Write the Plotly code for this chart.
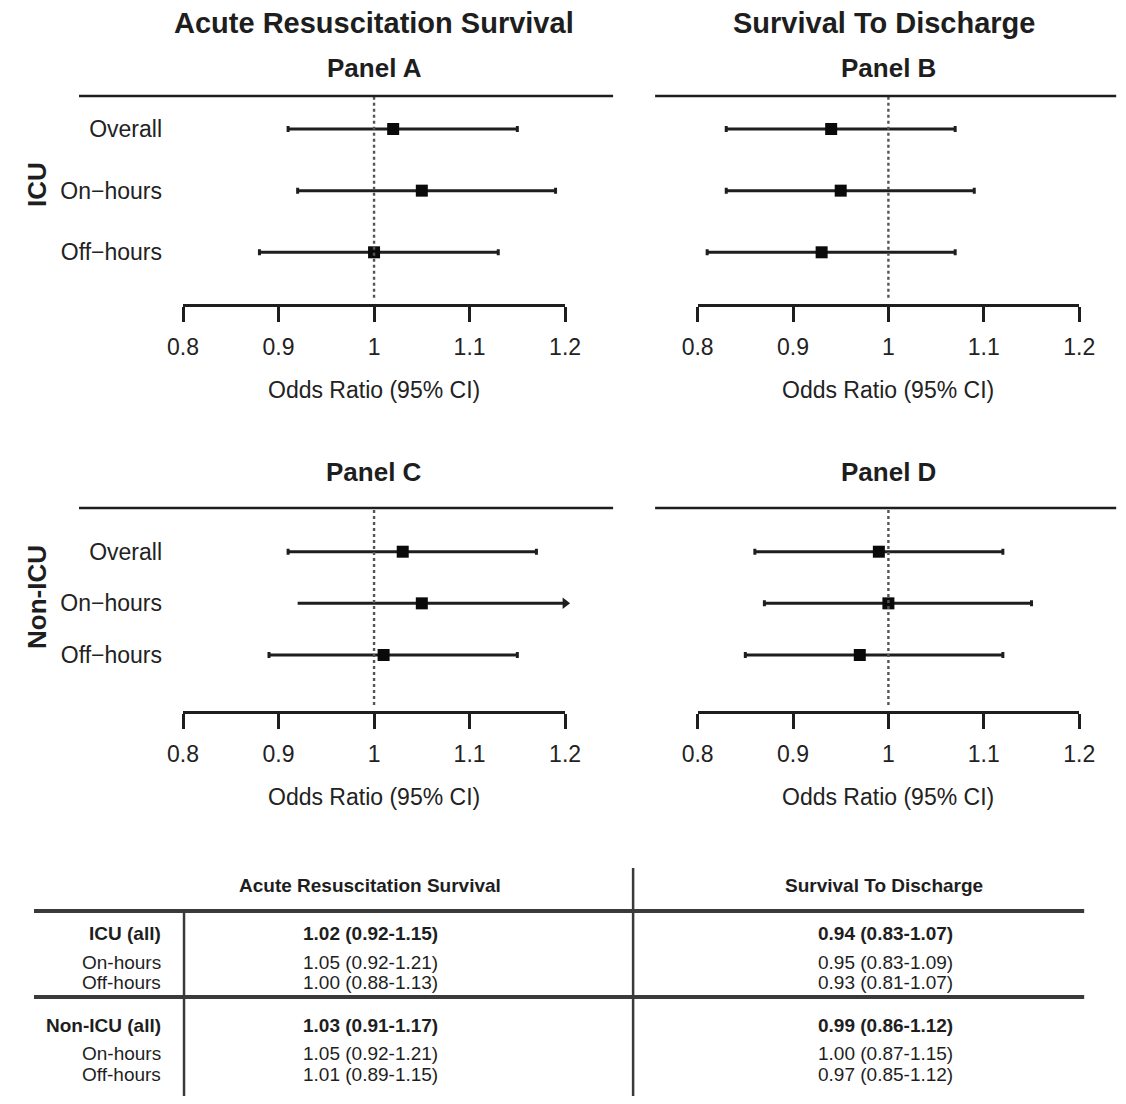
import plotly.graph_objects as go

# ---------------- data ----------------
row_labels = ["Overall", "On\u2212hours", "Off\u2212hours"]

# Panel A: ICU, acute resuscitation survival
a_or = [1.02, 1.05, 1.00]
a_lo = [0.91, 0.92, 0.88]
a_hi = [1.15, 1.19, 1.13]
# Panel B: ICU, survival to discharge
b_or = [0.94, 0.95, 0.93]
b_lo = [0.83, 0.83, 0.81]
b_hi = [1.07, 1.09, 1.07]
# Panel C: non-ICU, acute resuscitation survival
c_or = [1.03, 1.05, 1.01]
c_lo = [0.91, 0.92, 0.89]
c_hi = [1.17, 1.21, 1.15]
# Panel D: non-ICU, survival to discharge
d_or = [0.99, 1.00, 0.97]
d_lo = [0.86, 0.87, 0.85]
d_hi = [1.12, 1.15, 1.12]

x_ticks = [0.8, 0.9, 1.0, 1.1, 1.2]
x_ticktext = ["0.8", "0.9", "1", "1.1", "1.2"]

col_titles = ["Acute Resuscitation Survival", "Survival To Discharge"]
panel_titles = ["Panel A", "Panel B", "Panel C", "Panel D"]
row_group_titles = ["ICU", "Non-ICU"]

# Table text
table_header = ["Acute Resuscitation Survival", "Survival To Discharge"]
table_icu_labels = ["ICU (all)", "On-hours", "Off-hours"]
table_icu_ars = ["1.02 (0.92-1.15)", "1.05 (0.92-1.21)", "1.00 (0.88-1.13)"]
table_icu_std = ["0.94 (0.83-1.07)", "0.95 (0.83-1.09)", "0.93 (0.81-1.07)"]
table_non_labels = ["Non-ICU (all)", "On-hours", "Off-hours"]
table_non_ars = ["1.03 (0.91-1.17)", "1.05 (0.92-1.21)", "1.01 (0.89-1.15)"]
table_non_std = ["0.99 (0.86-1.12)", "1.00 (0.87-1.15)", "0.97 (0.85-1.12)"]

# ---------------- layout helpers ----------------
PAGE_MARGIN = 8                     # default body margin of the html page
W, H = 1126 - 2 * PAGE_MARGIN, 1104 - 2 * PAGE_MARGIN
FONT = "Liberation Sans, Arial, Helvetica, sans-serif"
INK = "#1e1e1e"
XMIN, XMAX = 0.8, 1.2
X_ORIGIN, X_SCALE = 23.0, 0.971     # calibration of the photographed page


def fx(px):
    return (px - X_ORIGIN) / (X_SCALE * W)


def fy(py):
    return 1 - (py - PAGE_MARGIN) / H


fig = go.Figure()

# panel geometry (target pixels)
panels = [
    dict(data=(a_or, a_lo, a_hi), x0=182, x1=564, top=96, bot=304, r3=129, r1=252.3,
         title_y=68, labels=True, line=(78, 612)),
    dict(data=(b_or, b_lo, b_hi), x0=696.5, x1=1078, top=96, bot=304, r3=129, r1=252.3,
         title_y=68, labels=False, line=(654, 1115)),
    dict(data=(c_or, c_lo, c_hi), x0=182, x1=564, top=508, bot=711, r3=551.7, r1=655,
         title_y=472, labels=True, line=(78, 612)),
    dict(data=(d_or, d_lo, d_hi), x0=696.5, x1=1078, top=508, bot=711, r3=551.7, r1=655,
         title_y=472, labels=False, line=(654, 1115)),
]

row_pos = [3, 2, 1]
shapes = []
annotations = []

for i, p in enumerate(panels):
    n = i + 1
    xa = "x" if n == 1 else f"x{n}"
    ya = "y" if n == 1 else f"y{n}"
    unit = (p["r1"] - p["r3"]) / 2.0
    y_top = 3 + (p["r3"] - p["top"]) / unit
    y_bot = 1 - (p["bot"] - p["r1"]) / unit

    ors, los, his = p["data"]
    for k in range(3):
        clipped = his[k] > XMAX
        upper = min(his[k], XMAX)
        fig.add_trace(go.Scatter(
            x=[ors[k]], y=[row_pos[k]], xaxis=xa, yaxis=ya, mode="markers",
            marker=dict(symbol="square", size=12, color="#0a0a0a"),
            error_x=dict(type="data", symmetric=False,
                         array=[upper - ors[k]], arrayminus=[ors[k] - los[k]],
                         color=INK, thickness=3, width=0 if clipped else 3),
            showlegend=False, hoverinfo="skip", cliponaxis=False,
        ))
        if clipped:
            fig.add_trace(go.Scatter(
                x=[XMAX], y=[row_pos[k]], xaxis=xa, yaxis=ya, mode="markers",
                marker=dict(symbol="triangle-right", size=10, color=INK),
                showlegend=False, hoverinfo="skip", cliponaxis=False,
            ))

    fig.update_layout(**{
        ("xaxis" if n == 1 else f"xaxis{n}"): dict(
            domain=[fx(p["x0"]), fx(p["x1"])], range=[XMIN, XMAX],
            anchor=ya, showgrid=False, zeroline=False,
            showline=True, linewidth=2.5, linecolor=INK,
            ticks="outside", ticklen=15, tickwidth=2.5, tickcolor=INK,
            tickvals=x_ticks, ticktext=x_ticktext,
            tickfont=dict(family=FONT, size=23, color="#222"),
            ticklabelstandoff=6, fixedrange=True,
        ),
        ("yaxis" if n == 1 else f"yaxis{n}"): dict(
            domain=[fy(p["bot"]), fy(p["top"])], range=[y_bot, y_top],
            anchor=xa, showgrid=False, zeroline=False, showline=False,
            tickvals=row_pos, ticktext=row_labels if p["labels"] else [""] * 3,
            showticklabels=p["labels"], ticks="",
            tickfont=dict(family=FONT, size=23, color="#222"),
            ticklabelstandoff=20, fixedrange=True,
        ),
    })

    # dotted reference line at OR = 1
    shapes.append(dict(type="line", xref=xa, yref=f"{ya} domain", x0=1, x1=1,
                       y0=0.03, y1=1, line=dict(color="#555", width=2.4, dash="dot")))
    # heavy line under panel title
    shapes.append(dict(type="line", xref="paper", yref="paper",
                       x0=fx(p["line"][0]), x1=fx(p["line"][1]),
                       y0=fy(p["top"]), y1=fy(p["top"]),
                       line=dict(color=INK, width=2.5)))
    # panel title
    annotations.append(dict(text=f"<b>{panel_titles[i]}</b>", x=fx((p["x0"] + p["x1"]) / 2),
                            y=fy(p["title_y"]), xref="paper", yref="paper",
                            showarrow=False, xanchor="center", yanchor="middle",
                            font=dict(family=FONT, size=26, color=INK)))
    # axis title
    annotations.append(dict(text="Odds Ratio (95% CI)", x=fx((p["x0"] + p["x1"]) / 2),
                            y=fy(p["bot"] + 86), xref="paper", yref="paper",
                            showarrow=False, xanchor="center", yanchor="middle",
                            font=dict(family=FONT, size=23, color="#222")))

# column titles
for j, cx in enumerate([373, 883]):
    annotations.append(dict(text=f"<b>{col_titles[j]}</b>", x=fx(cx), y=fy(23),
                            xref="paper", yref="paper", showarrow=False,
                            xanchor="center", yanchor="middle",
                            font=dict(family=FONT, size=29, color=INK)))

# row group titles (rotated)
for j, cy in enumerate([185, 597]):
    annotations.append(dict(text=f"<b>{row_group_titles[j]}</b>", x=fx(36), y=fy(cy),
                            xref="paper", yref="paper", showarrow=False, textangle=-90,
                            xanchor="center", yanchor="middle",
                            font=dict(family=FONT, size=26, color=INK)))

# ---------------- table ----------------
TLINE = "#3a3a3a"
for yy in [911, 997, 1101]:
    shapes.append(dict(type="line", xref="paper", yref="paper",
                       x0=fx(33), x1=fx(1083), y0=fy(yy), y1=fy(yy),
                       line=dict(color=TLINE, width=4)))
shapes.append(dict(type="line", xref="paper", yref="paper",
                   x0=fx(632), x1=fx(632), y0=fy(868), y1=fy(1104),
                   line=dict(color=TLINE, width=2.5)))
shapes.append(dict(type="line", xref="paper", yref="paper",
                   x0=fx(183), x1=fx(183), y0=fy(911), y1=fy(1104),
                   line=dict(color=TLINE, width=2.5)))

for j, cx in enumerate([369, 883]):
    annotations.append(dict(text=f"<b>{table_header[j]}</b>", x=fx(cx), y=fy(885),
                            xref="paper", yref="paper", showarrow=False,
                            xanchor="center", yanchor="middle",
                            font=dict(family=FONT, size=19, color=INK)))

blocks = [
    (table_icu_labels, table_icu_ars, table_icu_std, [933, 962, 982]),
    (table_non_labels, table_non_ars, table_non_std, [1025, 1053, 1074]),
]
for labels, ars, std, ys in blocks:
    for k in range(3):
        bold = k == 0

        def fmt(t):
            return f"<b>{t}</b>" if bold else t
        annotations.append(dict(text=fmt(labels[k]), x=fx(162), y=fy(ys[k]),
                                xref="paper", yref="paper", showarrow=False,
                                xanchor="right", yanchor="middle",
                                font=dict(family=FONT, size=19, color=INK)))
        annotations.append(dict(text=fmt(ars[k]), x=fx(369), y=fy(ys[k]),
                                xref="paper", yref="paper", showarrow=False,
                                xanchor="center", yanchor="middle",
                                font=dict(family=FONT, size=19, color=INK)))
        annotations.append(dict(text=fmt(std[k]), x=fx(884), y=fy(ys[k]),
                                xref="paper", yref="paper", showarrow=False,
                                xanchor="center", yanchor="middle",
                                font=dict(family=FONT, size=19, color=INK)))

fig.update_layout(
    width=W, height=H, margin=dict(l=0, r=0, t=0, b=0),
    paper_bgcolor="white", plot_bgcolor="white",
    showlegend=False, shapes=shapes, annotations=annotations,
    font=dict(family=FONT, color=INK),
)

fig.write_html("out.html")
